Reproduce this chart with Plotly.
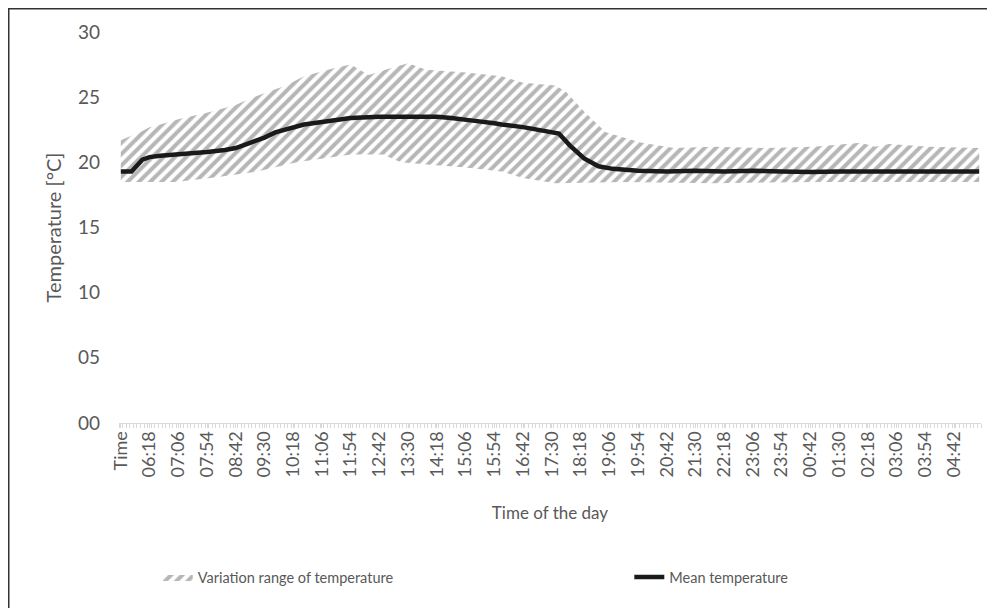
import plotly.graph_objects as go

# ---------------- data ----------------
START = "05:30"   # first category (labelled "Time" in the source chart)

TICK_LABELS = ["Time", "06:18", "07:06", "07:54", "08:42", "09:30", "10:18", "11:06",
               "11:54", "12:42", "13:30", "14:18", "15:06", "15:54", "16:42", "17:30",
               "18:18", "19:06", "19:54", "20:42", "21:30", "22:18", "23:06", "23:54",
               "00:42", "01:30", "02:18", "03:06", "03:54", "04:42"]
LAST_TIME = "05:24"

MEAN_TIMES = ["05:30", "05:48", "06:06", "06:18", "06:36", "07:06", "07:54", "08:24",
              "08:42", "09:06", "09:30", "09:48", "10:18", "10:36", "11:06", "11:54",
              "12:42", "13:30", "14:18", "14:42", "15:06", "15:18", "15:54", "16:06",
              "16:42", "17:24", "17:42", "17:48", "18:00", "18:24", "18:48", "19:12",
              "19:54", "20:42", "21:30", "22:18", "23:06", "23:54", "00:42", "01:30",
              "02:18", "03:06", "03:54", "04:42", "05:24"]
MEAN_VALUES = [19.3, 19.3, 20.2, 20.4, 20.5, 20.6, 20.8, 20.95,
               21.1, 21.5, 21.9, 22.3, 22.7, 22.9, 23.1, 23.4,
               23.5, 23.5, 23.5, 23.4, 23.3, 23.2, 23.0, 22.9,
               22.7, 22.3, 22.2, 21.9, 21.3, 20.3, 19.7, 19.5,
               19.35, 19.3, 19.35, 19.3, 19.35, 19.3, 19.25, 19.3,
               19.3, 19.25, 19.3, 19.3, 19.3]

UPPER_TIMES = ["05:30", "06:06", "06:18", "06:36", "07:06", "07:54", "08:42", "09:06",
               "09:24", "10:06", "10:36", "11:24", "11:54", "12:24", "13:06", "13:30",
               "14:00", "15:06", "16:06", "16:42", "17:36", "17:54", "18:24", "19:00",
               "20:00", "20:54", "22:00", "23:30", "00:48", "02:06", "02:30", "02:54",
               "04:00", "05:24"]
UPPER_VALUES = [21.7, 22.4, 22.7, 22.9, 23.3, 23.8, 24.4, 24.9,
                25.2, 25.9, 26.6, 27.2, 27.5, 26.7, 27.3, 27.6,
                27.1, 26.9, 26.6, 26.1, 25.9, 25.4, 23.9, 22.3,
                21.5, 21.1, 21.2, 21.1, 21.2, 21.5, 21.2, 21.4,
                21.2, 21.1]

LOWER_TIMES = ["05:30", "07:00", "08:00", "08:42", "09:18", "10:24", "11:54", "12:48",
               "13:18", "14:12", "15:06", "16:06", "16:42", "17:36", "19:30", "22:00",
               "01:00", "05:24"]
LOWER_VALUES = [18.5, 18.5, 18.8, 19.1, 19.3, 20.0, 20.6, 20.6,
                20.0, 19.8, 19.6, 19.3, 18.8, 18.4, 18.5, 18.4,
                18.5, 18.5]

Y_TICKS = [0, 5, 10, 15, 20, 25, 30]
Y_TICK_TEXT = ["00", "05", "10", "15", "20", "25", "30"]


def to_min(t):
    """minutes elapsed since START (wrapping past midnight)"""
    h, m = map(int, t.split(":"))
    sh, sm = map(int, START.split(":"))
    return ((h * 60 + m) - (sh * 60 + sm)) % 1440


tickvals = [0 if lab == "Time" else to_min(lab) for lab in TICK_LABELS]
last = to_min(LAST_TIME)

FONT = "Lato, 'Open Sans', sans-serif"
GREY = "#595959"

fig = go.Figure()
fig.add_trace(go.Scatter(
    x=[to_min(t) for t in LOWER_TIMES], y=LOWER_VALUES, mode="lines",
    line=dict(width=0, color="rgba(0,0,0,0)"), showlegend=False, hoverinfo="skip"))
fig.add_trace(go.Scatter(
    x=[to_min(t) for t in UPPER_TIMES], y=UPPER_VALUES, mode="lines",
    line=dict(width=0, color="rgba(0,0,0,0)"), fill="tonexty",
    fillcolor="rgba(0,0,0,0)",
    fillpattern=dict(shape="/", fgcolor="#6e6e6e", bgcolor="rgba(255,255,255,0)",
                     size=8, solidity=0.5),
    name="Variation range of temperature", legend="legend"))
fig.add_trace(go.Scatter(
    x=[to_min(t) for t in MEAN_TIMES], y=MEAN_VALUES, mode="lines",
    line=dict(width=4.5, color="#1a1a1a"), name="Mean temperature", legend="legend2"))

leg_common = dict(orientation="h", y=-0.394, yanchor="middle", xanchor="left",
                  font=dict(size=14.5, color=GREY), bgcolor="rgba(0,0,0,0)")

fig.update_layout(
    width=995, height=608,
    margin=dict(l=111, r=22, t=24, b=193),
    paper_bgcolor="white", plot_bgcolor="white",
    font=dict(family=FONT, color=GREY),
    showlegend=True,
    legend=dict(x=0.045, **leg_common),
    legend2=dict(x=0.592, **leg_common),
    xaxis=dict(range=[-3, last + 3], tickmode="array", tickvals=tickvals,
               ticktext=TICK_LABELS, tickangle=-90, tickfont=dict(size=18, color=GREY),
               showgrid=False, zeroline=False, showline=True, linecolor="#d9d9d9",
               linewidth=1, ticks="outside", ticklen=4, tickcolor="#d9d9d9",
               automargin=False, ticklabelstandoff=-4,
               minor=dict(dtick=6, tick0=3, ticks="outside", ticklen=4,
                          tickcolor="#d9d9d9", showgrid=False),
               title=dict(text="Time of the day", font=dict(size=17, color=GREY),
                          standoff=30)),
    yaxis=dict(range=[0, 30], tickmode="array", tickvals=Y_TICKS, ticktext=Y_TICK_TEXT,
               tickfont=dict(size=19, color=GREY), showgrid=False, zeroline=False,
               showline=False, ticks="", ticklabelstandoff=18, automargin=False,
               title=dict(text="Temperature [°C]", font=dict(size=20, color=GREY),
                          standoff=10)),
    shapes=[dict(type="rect", xref="paper", yref="paper",
                 x0=-0.1279, x1=1.0139, y0=-0.6, y1=1.0595,
                 line=dict(color="#333333", width=1.5), fillcolor="rgba(0,0,0,0)",
                 layer="below")],
)

fig.write_html("out.html")
